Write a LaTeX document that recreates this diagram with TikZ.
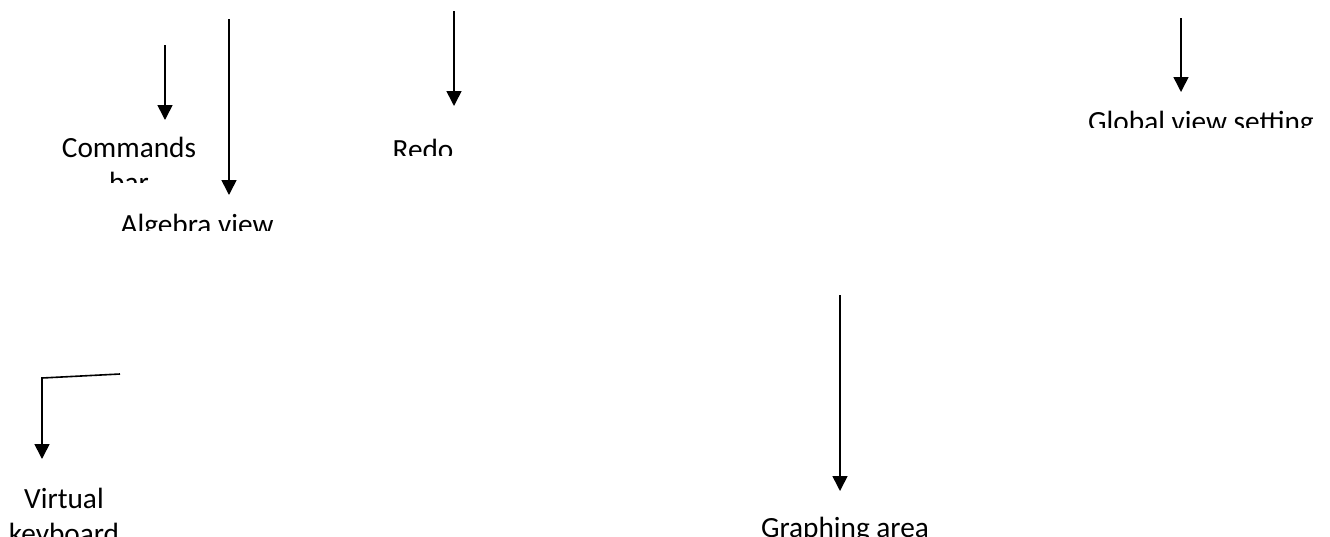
\documentclass[tikz,border=0pt]{standalone}
\usepackage{fontspec}
\setmainfont{Carlito}
\usetikzlibrary{arrows.meta}
\tikzset{
  pointer/.style={draw, line width=1.6pt, line cap=butt,
    -{Triangle[length=15pt,width=15pt]}},
  caption/.style={font=\fontsize{29.3}{35.8}\selectfont, inner sep=0pt,
    anchor=base, align=center},
}
\begin{document}
\begin{tikzpicture}[x=1pt,y=-1pt]
\useasboundingbox (0,0) rectangle (1330,536);

% labels, each cut off by the bottom of its text frame
% (a two-line label sits on the baseline of its last line)
\begin{scope}
  \clip (0,0) rectangle (1330,182);
  \node[caption] (commands) at (129,192.8) {Commands\\bar};
\end{scope}
\begin{scope}
  \clip (0,0) rectangle (1330,230);
  \node[caption] (algebra) at (197,234) {Algebra view};
\end{scope}
\begin{scope}
  \clip (0,0) rectangle (1330,155);
  \node[caption] (redo) at (423,159) {Redo};
\end{scope}
\begin{scope}
  \clip (0,0) rectangle (1330,127);
  \node[caption] (global) at (1201,131) {Global view setting};
\end{scope}
\begin{scope}
  \clip (0,0) rectangle (1330,536);
  \node[caption] (keyboard) at (64,543.8) {Virtual\\keyboard};
  \node[caption] (graphing) at (845,537) {Graphing area};
\end{scope}

% free ends of the pointers
\coordinate (commandsTail) at (165,45);
\coordinate (algebraTail) at (229,19);
\coordinate (redoTail) at (454,11);
\coordinate (globalTail) at (1181,18);
\coordinate (keyboardTail) at (120,374);
\coordinate (keyboardBend) at (42,378);
\coordinate (graphingTail) at (840,295);

% pointers, each ending just above its label
\draw[pointer] (commandsTail) -- (commandsTail |- 0,120);
\draw[pointer] (algebraTail) -- (algebraTail |- 0,195);
\draw[pointer] (redoTail) -- (redoTail |- 0,106);
\draw[pointer] (globalTail) -- (globalTail |- 0,92);
\draw[pointer, line join=miter] (keyboardTail) -- (keyboardBend) -- (keyboardBend |- 0,459);
\draw[pointer] (graphingTail) -- (graphingTail |- 0,491);
\end{tikzpicture}
\end{document}
